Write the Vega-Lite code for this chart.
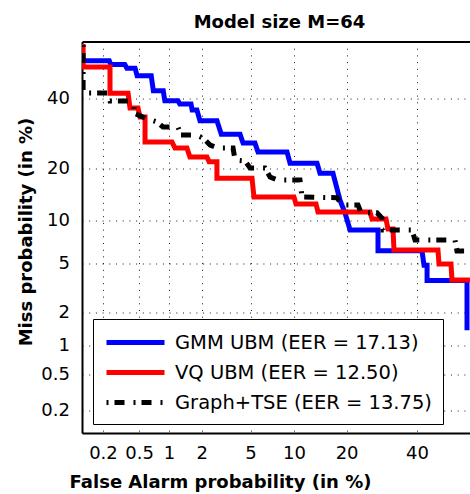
{
  "$schema": "https://vega.github.io/schema/vega-lite/v6.json",
  "width": 388,
  "height": 391.5,
  "autosize": {"type": "none"},
  "padding": {"left": 82, "top": 41.5, "right": 0, "bottom": 61},
  "background": "white",
  "title": {"text": "Model size M=64", "font": "DejaVu Sans", "fontSize": 18, "fontWeight": "bold", "color": "black", "anchor": "middle", "frame": "group", "baseline": "alphabetic", "offset": -4.5, "dx": 3.5},
  "datasets": {
    "det": [
      {"s": "GMM UBM (EER = 17.13)", "i": 1, "fa": 0.1, "miss": 52.5},
      {"s": "GMM UBM (EER = 17.13)", "i": 2, "fa": 0.24, "miss": 52.5},
      {"s": "GMM UBM (EER = 17.13)", "i": 3, "fa": 0.25, "miss": 51.25},
      {"s": "GMM UBM (EER = 17.13)", "i": 4, "fa": 0.36, "miss": 51.25},
      {"s": "GMM UBM (EER = 17.13)", "i": 5, "fa": 0.38, "miss": 50},
      {"s": "GMM UBM (EER = 17.13)", "i": 6, "fa": 0.46, "miss": 50},
      {"s": "GMM UBM (EER = 17.13)", "i": 7, "fa": 0.48, "miss": 47.5},
      {"s": "GMM UBM (EER = 17.13)", "i": 8, "fa": 0.67, "miss": 47.5},
      {"s": "GMM UBM (EER = 17.13)", "i": 9, "fa": 0.7, "miss": 42.5},
      {"s": "GMM UBM (EER = 17.13)", "i": 10, "fa": 0.89, "miss": 42.5},
      {"s": "GMM UBM (EER = 17.13)", "i": 11, "fa": 0.92, "miss": 39.2},
      {"s": "GMM UBM (EER = 17.13)", "i": 12, "fa": 1.24, "miss": 39.2},
      {"s": "GMM UBM (EER = 17.13)", "i": 13, "fa": 1.29, "miss": 38.2},
      {"s": "GMM UBM (EER = 17.13)", "i": 14, "fa": 1.62, "miss": 38.2},
      {"s": "GMM UBM (EER = 17.13)", "i": 15, "fa": 1.66, "miss": 36.3},
      {"s": "GMM UBM (EER = 17.13)", "i": 16, "fa": 1.83, "miss": 36.3},
      {"s": "GMM UBM (EER = 17.13)", "i": 17, "fa": 1.94, "miss": 33.0},
      {"s": "GMM UBM (EER = 17.13)", "i": 18, "fa": 2.74, "miss": 33.0},
      {"s": "GMM UBM (EER = 17.13)", "i": 19, "fa": 2.95, "miss": 29.0},
      {"s": "GMM UBM (EER = 17.13)", "i": 20, "fa": 4.17, "miss": 29.0},
      {"s": "GMM UBM (EER = 17.13)", "i": 21, "fa": 4.41, "miss": 26.5},
      {"s": "GMM UBM (EER = 17.13)", "i": 22, "fa": 5.44, "miss": 26.5},
      {"s": "GMM UBM (EER = 17.13)", "i": 23, "fa": 5.74, "miss": 24.1},
      {"s": "GMM UBM (EER = 17.13)", "i": 24, "fa": 9.1, "miss": 24.1},
      {"s": "GMM UBM (EER = 17.13)", "i": 25, "fa": 9.49, "miss": 21.3},
      {"s": "GMM UBM (EER = 17.13)", "i": 26, "fa": 13.85, "miss": 21.3},
      {"s": "GMM UBM (EER = 17.13)", "i": 27, "fa": 14.42, "miss": 18.9},
      {"s": "GMM UBM (EER = 17.13)", "i": 28, "fa": 17.02, "miss": 18.9},
      {"s": "GMM UBM (EER = 17.13)", "i": 29, "fa": 18.55, "miss": 13.4},
      {"s": "GMM UBM (EER = 17.13)", "i": 30, "fa": 19.65, "miss": 11.25},
      {"s": "GMM UBM (EER = 17.13)", "i": 31, "fa": 20.85, "miss": 8.8},
      {"s": "GMM UBM (EER = 17.13)", "i": 32, "fa": 28.17, "miss": 8.8},
      {"s": "GMM UBM (EER = 17.13)", "i": 33, "fa": 28.17, "miss": 6.3},
      {"s": "GMM UBM (EER = 17.13)", "i": 34, "fa": 41.64, "miss": 6.3},
      {"s": "GMM UBM (EER = 17.13)", "i": 35, "fa": 42.3, "miss": 4.9},
      {"s": "GMM UBM (EER = 17.13)", "i": 36, "fa": 43.3, "miss": 4.9},
      {"s": "GMM UBM (EER = 17.13)", "i": 37, "fa": 43.3, "miss": 3.75},
      {"s": "GMM UBM (EER = 17.13)", "i": 38, "fa": 56.54, "miss": 3.75},
      {"s": "GMM UBM (EER = 17.13)", "i": 39, "fa": 56.54, "miss": 1.4},
      {"s": "VQ UBM (EER = 12.50)", "i": 1, "fa": 0.117, "miss": 58.0},
      {"s": "VQ UBM (EER = 12.50)", "i": 2, "fa": 0.117, "miss": 50.4},
      {"s": "VQ UBM (EER = 12.50)", "i": 3, "fa": 0.245, "miss": 50.4},
      {"s": "VQ UBM (EER = 12.50)", "i": 4, "fa": 0.245, "miss": 41.7},
      {"s": "VQ UBM (EER = 12.50)", "i": 5, "fa": 0.392, "miss": 41.7},
      {"s": "VQ UBM (EER = 12.50)", "i": 6, "fa": 0.411, "miss": 36.9},
      {"s": "VQ UBM (EER = 12.50)", "i": 7, "fa": 0.489, "miss": 36.9},
      {"s": "VQ UBM (EER = 12.50)", "i": 8, "fa": 0.512, "miss": 34.1},
      {"s": "VQ UBM (EER = 12.50)", "i": 9, "fa": 0.583, "miss": 34.1},
      {"s": "VQ UBM (EER = 12.50)", "i": 10, "fa": 0.583, "miss": 26.8},
      {"s": "VQ UBM (EER = 12.50)", "i": 11, "fa": 1.08, "miss": 26.8},
      {"s": "VQ UBM (EER = 12.50)", "i": 12, "fa": 1.16, "miss": 25.1},
      {"s": "VQ UBM (EER = 12.50)", "i": 13, "fa": 1.48, "miss": 25.1},
      {"s": "VQ UBM (EER = 12.50)", "i": 14, "fa": 1.58, "miss": 22.85},
      {"s": "VQ UBM (EER = 12.50)", "i": 15, "fa": 2.26, "miss": 22.85},
      {"s": "VQ UBM (EER = 12.50)", "i": 16, "fa": 2.36, "miss": 21.66},
      {"s": "VQ UBM (EER = 12.50)", "i": 17, "fa": 2.74, "miss": 21.66},
      {"s": "VQ UBM (EER = 12.50)", "i": 18, "fa": 2.74, "miss": 17.8},
      {"s": "VQ UBM (EER = 12.50)", "i": 19, "fa": 5.15, "miss": 17.8},
      {"s": "VQ UBM (EER = 12.50)", "i": 20, "fa": 5.34, "miss": 14.0},
      {"s": "VQ UBM (EER = 12.50)", "i": 21, "fa": 10.0, "miss": 14.0},
      {"s": "VQ UBM (EER = 12.50)", "i": 22, "fa": 10.33, "miss": 12.7},
      {"s": "VQ UBM (EER = 12.50)", "i": 23, "fa": 13.66, "miss": 12.7},
      {"s": "VQ UBM (EER = 12.50)", "i": 24, "fa": 14.04, "miss": 11.4},
      {"s": "VQ UBM (EER = 12.50)", "i": 25, "fa": 25.94, "miss": 11.4},
      {"s": "VQ UBM (EER = 12.50)", "i": 26, "fa": 26.5, "miss": 10.27},
      {"s": "VQ UBM (EER = 12.50)", "i": 27, "fa": 30.43, "miss": 10.27},
      {"s": "VQ UBM (EER = 12.50)", "i": 28, "fa": 31.03, "miss": 8.92},
      {"s": "VQ UBM (EER = 12.50)", "i": 29, "fa": 32.53, "miss": 8.92},
      {"s": "VQ UBM (EER = 12.50)", "i": 30, "fa": 32.83, "miss": 6.38},
      {"s": "VQ UBM (EER = 12.50)", "i": 31, "fa": 46.9, "miss": 6.38},
      {"s": "VQ UBM (EER = 12.50)", "i": 32, "fa": 47.24, "miss": 4.99},
      {"s": "VQ UBM (EER = 12.50)", "i": 33, "fa": 51.23, "miss": 4.99},
      {"s": "VQ UBM (EER = 12.50)", "i": 34, "fa": 51.56, "miss": 3.78},
      {"s": "VQ UBM (EER = 12.50)", "i": 35, "fa": 57.5, "miss": 3.78},
      {"s": "Graph+TSE (EER = 13.75)", "i": 1, "fa": 0.117, "miss": 57.7},
      {"s": "Graph+TSE (EER = 13.75)", "i": 2, "fa": 0.117, "miss": 41.74},
      {"s": "Graph+TSE (EER = 13.75)", "i": 3, "fa": 0.232, "miss": 41.74},
      {"s": "Graph+TSE (EER = 13.75)", "i": 4, "fa": 0.245, "miss": 39.14},
      {"s": "Graph+TSE (EER = 13.75)", "i": 5, "fa": 0.392, "miss": 39.14},
      {"s": "Graph+TSE (EER = 13.75)", "i": 6, "fa": 0.45, "miss": 37.55},
      {"s": "Graph+TSE (EER = 13.75)", "i": 7, "fa": 0.45, "miss": 35.32},
      {"s": "Graph+TSE (EER = 13.75)", "i": 8, "fa": 0.583, "miss": 33.8},
      {"s": "Graph+TSE (EER = 13.75)", "i": 9, "fa": 0.77, "miss": 32.6},
      {"s": "Graph+TSE (EER = 13.75)", "i": 10, "fa": 0.885, "miss": 31.08},
      {"s": "Graph+TSE (EER = 13.75)", "i": 11, "fa": 1.24, "miss": 31.08},
      {"s": "Graph+TSE (EER = 13.75)", "i": 12, "fa": 1.32, "miss": 28.76},
      {"s": "Graph+TSE (EER = 13.75)", "i": 13, "fa": 1.8, "miss": 28.76},
      {"s": "Graph+TSE (EER = 13.75)", "i": 14, "fa": 2.07, "miss": 27.92},
      {"s": "Graph+TSE (EER = 13.75)", "i": 15, "fa": 2.41, "miss": 25.96},
      {"s": "Graph+TSE (EER = 13.75)", "i": 16, "fa": 2.79, "miss": 25.12},
      {"s": "Graph+TSE (EER = 13.75)", "i": 17, "fa": 3.69, "miss": 25.12},
      {"s": "Graph+TSE (EER = 13.75)", "i": 18, "fa": 3.82, "miss": 22.09},
      {"s": "Graph+TSE (EER = 13.75)", "i": 19, "fa": 4.57, "miss": 21.84},
      {"s": "Graph+TSE (EER = 13.75)", "i": 20, "fa": 4.96, "miss": 20.08},
      {"s": "Graph+TSE (EER = 13.75)", "i": 21, "fa": 6.43, "miss": 20.08},
      {"s": "Graph+TSE (EER = 13.75)", "i": 22, "fa": 6.93, "miss": 18.09},
      {"s": "Graph+TSE (EER = 13.75)", "i": 23, "fa": 7.94, "miss": 17.43},
      {"s": "Graph+TSE (EER = 13.75)", "i": 24, "fa": 10.97, "miss": 17.43},
      {"s": "Graph+TSE (EER = 13.75)", "i": 25, "fa": 11.3, "miss": 14.0},
      {"s": "Graph+TSE (EER = 13.75)", "i": 26, "fa": 17.9, "miss": 13.86},
      {"s": "Graph+TSE (EER = 13.75)", "i": 27, "fa": 18.99, "miss": 12.55},
      {"s": "Graph+TSE (EER = 13.75)", "i": 28, "fa": 22.85, "miss": 12.55},
      {"s": "Graph+TSE (EER = 13.75)", "i": 29, "fa": 23.6, "miss": 11.3},
      {"s": "Graph+TSE (EER = 13.75)", "i": 30, "fa": 27.89, "miss": 11.3},
      {"s": "Graph+TSE (EER = 13.75)", "i": 31, "fa": 29.28, "miss": 10.44},
      {"s": "Graph+TSE (EER = 13.75)", "i": 32, "fa": 29.56, "miss": 8.79},
      {"s": "Graph+TSE (EER = 13.75)", "i": 33, "fa": 38.42, "miss": 8.79},
      {"s": "Graph+TSE (EER = 13.75)", "i": 34, "fa": 39.37, "miss": 7.49},
      {"s": "Graph+TSE (EER = 13.75)", "i": 35, "fa": 52.56, "miss": 7.49},
      {"s": "Graph+TSE (EER = 13.75)", "i": 36, "fa": 53.22, "miss": 6.28},
      {"s": "Graph+TSE (EER = 13.75)", "i": 37, "fa": 57.5, "miss": 6.28}
    ]
  },
  "data": {"name": "det"},
  "layer": [
    {
      "mark": {"type": "line", "clip": true, "strokeWidth": 5, "strokeCap": "butt", "strokeJoin": "miter"},
      "encoding": {
        "x": {
          "field": "fa", "type": "quantitative",
          "scale": {
            "type": "linear", "nice": false, "zero": false,
            "domain": [0.113, 0.15, 0.2, 0.3, 0.5, 0.7, 1, 1.5, 2, 3, 4, 5, 7, 10, 13, 16, 20, 25, 30, 35, 40, 45, 50, 55, 57.5],
            "range": [0, 10.28, 20.98, 36.58, 57.16, 71.33, 87.0, 105.69, 119.62, 140.30, 155.87, 168.52, 188.75, 211.98, 230.55, 246.33, 264.62, 284.61, 302.57, 319.21, 335, 350.26, 365.30, 380.34, 387.92]
          },
          "axis": {
            "orient": "bottom",
            "values": [0.2, 0.5, 1, 2, 5, 10, 20, 40],
            "labelExpr": "'' + datum.value",
            "grid": true, "gridColor": "black", "gridDash": [1, 5.7], "gridOpacity": 0.9, "gridWidth": 1,
            "ticks": false,
            "domain": true, "domainColor": "black", "domainWidth": 2,
            "labelFont": "DejaVu Sans", "labelFontSize": 18, "labelColor": "black", "labelPadding": 11,
            "labelOverlap": false, "labelFlush": false, "labelBound": false,
            "title": "False Alarm probability (in %)",
            "titleFont": "DejaVu Sans", "titleFontSize": 18, "titleFontWeight": "bold", "titleColor": "black",
            "titleX": 138, "titleY": 54, "titleAlign": "center", "titleBaseline": "alphabetic"
          }
        },
        "y": {
          "field": "miss", "type": "quantitative",
          "scale": {
            "type": "linear", "nice": false, "zero": false,
            "domain": [0.1087, 0.15, 0.2, 0.3, 0.5, 0.7, 1, 1.5, 2, 3, 4, 5, 7, 10, 13, 16, 20, 25, 30, 35, 40, 45, 50, 55, 58.86],
            "range": [391.5, 379.87, 369.22, 353.70, 333.22, 319.12, 303.53, 284.94, 271.08, 250.50, 235.02, 222.43, 202.30, 179.19, 160.72, 145.02, 126.82, 106.93, 89.07, 72.51, 56.8, 41.61, 26.65, 11.69, 0]
          },
          "axis": {
            "orient": "left",
            "values": [0.2, 0.5, 1, 2, 5, 10, 20, 40],
            "labelExpr": "'' + datum.value",
            "grid": true, "gridColor": "black", "gridDash": [1, 5.7], "gridOpacity": 0.9, "gridWidth": 1,
            "ticks": false,
            "domain": true, "domainColor": "black", "domainWidth": 2,
            "labelFont": "DejaVu Sans", "labelFontSize": 18, "labelColor": "black", "labelPadding": 12.5,
            "labelOverlap": false, "labelFlush": false, "labelBound": false,
            "title": "Miss probability (in %)",
            "titleFont": "DejaVu Sans", "titleFontSize": 18, "titleFontWeight": "bold", "titleColor": "black",
            "titleAngle": 270, "titleX": -50.5, "titleY": 190, "titleAlign": "center", "titleBaseline": "alphabetic"
          }
        },
        "order": {"field": "i", "type": "quantitative"},
        "color": {
          "field": "s", "type": "nominal",
          "scale": {"domain": ["GMM UBM (EER = 17.13)", "VQ UBM (EER = 12.50)", "Graph+TSE (EER = 13.75)"], "range": ["#0000ff", "#ff0000", "#000000"]},
          "legend": {
            "title": null, "orient": "none", "legendX": 11, "legendY": 277.5, "direction": "vertical",
            "fillColor": "white", "strokeColor": "black", "padding": 11,
            "symbolType": "M-1,0H4.8", "symbolSize": 400, "symbolStrokeWidth": 5,
            "labelFont": "DejaVu Sans", "labelFontSize": 19.5, "labelColor": "black", "labelOffset": 46, "labelLimit": 400,
            "rowPadding": 7
          }
        },
        "strokeDash": {
          "field": "s", "type": "nominal",
          "scale": {"domain": ["GMM UBM (EER = 17.13)", "VQ UBM (EER = 12.50)", "Graph+TSE (EER = 13.75)"], "range": [[1, 0], [1, 0], [2, 6, 10, 9]]},
          "legend": {
            "title": null, "orient": "none", "legendX": 11, "legendY": 277.5, "direction": "vertical",
            "fillColor": "white", "strokeColor": "black", "padding": 11,
            "symbolType": "M-1,0H4.8", "symbolSize": 400, "symbolStrokeWidth": 5,
            "labelFont": "DejaVu Sans", "labelFontSize": 19.5, "labelColor": "black", "labelOffset": 46, "labelLimit": 400,
            "rowPadding": 7
          }
        }
      }
    },
    {
      "mark": {"type": "rule", "strokeOpacity": 0},
      "encoding": {
        "x": {
          "field": "fa", "type": "quantitative",
          "axis": {"orient": "top", "labels": false, "ticks": false, "grid": false, "domain": true, "domainColor": "black", "domainWidth": 2, "title": null, "minExtent": 0, "maxExtent": 0, "offset": 0}
        }
      }
    }
  ],
  "resolve": {"axis": {"x": "independent"}},
  "config": {"view": {"stroke": null}}
}
